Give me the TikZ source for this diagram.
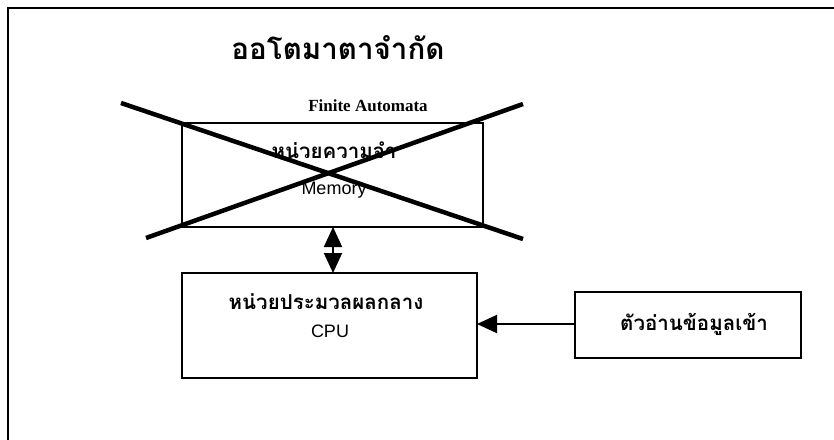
\documentclass[tikz,border=0pt]{standalone}
\usepackage{fontspec}
\setmainfont{Liberation Serif}
\newfontfamily\thaifont[Script=Thai]{Loma}
\newfontfamily\arialfont{Liberation Sans}
\usetikzlibrary{arrows.meta}
\begin{document}
\begin{tikzpicture}[x=1pt,y=-1pt,
  box/.style={draw,line width=1.8pt},
  cross/.style={line width=4.5pt},
  bigtip/.style={-{Triangle[length=20pt,width=18pt]}, line width=2pt},
  thai/.style={font=\thaifont\bfseries\fontsize{20.5}{24}\selectfont},
  latin/.style={font=\arialfont\fontsize{18}{21}\selectfont}]
\useasboundingbox (0,0) rectangle (834,439);
\draw[line width=1.8pt] (8,470) -- (8,8) -- (860,8);
\node[font=\thaifont\bfseries\fontsize{29.5}{34}\selectfont] (title) at (338,48) {ออโตมาตาจำกัด};
\node[font=\bfseries\fontsize{17}{20}\selectfont] (fa) at (368,106) {Finite Automata};
\draw[box] (182,123) rectangle (483,227);
\coordinate (memtop) at (333,123);
\coordinate (membot) at (333,227);
\node[thai] (memth) at (334,150) {หน่วยความจำ};
\node[latin] (memen) at (334,190) {Memory};
\draw[cross] (121,103) -- (523,239);
\draw[cross] (146,238) -- (523,104);
\draw[box] (182,273) rectangle (477,378);
\coordinate (cputop) at (333,273);
\coordinate (cpuright) at (477,324);
\node[thai] (cputh) at (326,302) {หน่วยประมวลผลกลาง};
\node[latin] (cpuen) at (330,331) {CPU};
\draw[box] (575,292) rectangle (801,358);
\coordinate (inleft) at (575,324);
\node[thai] (inth) at (694,324) {ตัวอ่านข้อมูลเข้า};
\draw[{Triangle[length=20pt,width=18pt]}-{Triangle[length=20pt,width=18pt]}, line width=2pt] (membot) -- (cputop);
\draw[bigtip] (inleft) -- (cpuright);
\end{tikzpicture}
\end{document}
